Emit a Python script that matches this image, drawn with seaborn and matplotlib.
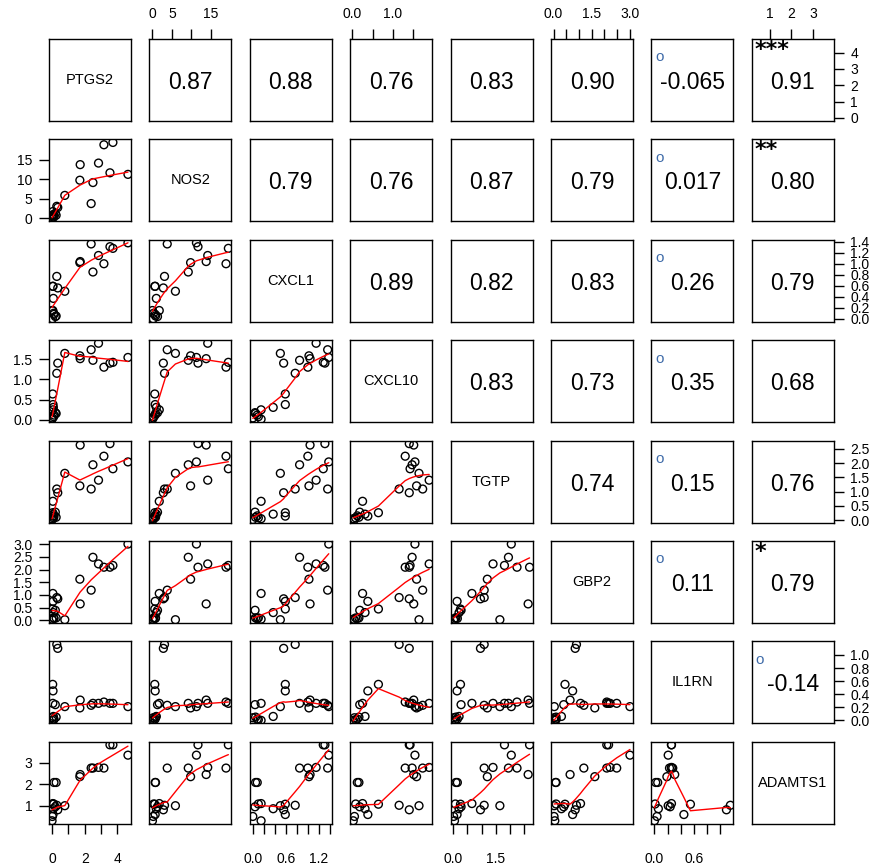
import numpy as np
import pandas as pd
import matplotlib
matplotlib.use("Agg")
import matplotlib.pyplot as plt
import seaborn as sns

# gene expression values (one entry per sample)
PTGS2 = [4.64, 3.72, 3.54, 3.17, 2.84, 2.50, 2.39, 1.72, 1.70, 0.78, 0.29, 0.35,
         0.04, 0.06, 0.08, 0.05, 0.00, 0.12, 0.25, 0.02, 0.10, 0.20]
NOS2 = [11.3, 19.5, 11.7, 18.9, 14.2, 9.2, 3.8, 13.8, 9.8, 5.9, 3.1, 2.8,
        0.6, 0.7, 1.0, 1.75, 0.0, 0.7, 0.8, 0.2, 0.3, 1.3]
CXCL1 = [1.38, 1.28, 1.31, 1.00, 1.15, 0.85, 1.36, 1.04, 1.02, 0.50, 0.77, 0.56,
         0.59, 0.59, 0.37, 0.15, 0.15, 0.08, 0.05, 0.00, 0.10, 0.04]
CXCL10 = [1.54, 1.42, 1.40, 1.30, 1.89, 1.47, 1.73, 1.51, 1.58, 1.64, 1.15, 1.40,
          0.64, 0.38, 0.31, 0.25, 0.02, 0.12, 0.16, 0.05, 0.08, 0.18]
TGTP = [2.04, 1.80, 2.68, 2.24, 1.40, 1.94, 1.09, 2.63, 1.20, 1.64, 1.09, 0.96,
        0.26, 0.14, 0.21, 0.66, 0.05, 0.15, 0.10, 0.02, 0.08, 0.28]
GBP2 = [3.00, 2.16, 2.09, 2.09, 2.22, 2.48, 1.19, 0.65, 1.62, 0.03, 0.90, 0.85,
        0.45, 0.75, 0.31, 1.06, 0.05, 0.08, 0.10, 0.02, 0.10, 0.40]
IL1RN = [0.21, 0.26, 0.26, 0.28, 0.26, 0.26, 0.23, 0.31, 0.19, 0.21, 1.16, 1.10,
         0.55, 0.45, 0.06, 0.26, 0.00, 0.02, 0.05, 0.04, 0.01, 0.24]
ADAMTS1 = [3.35, 3.83, 3.83, 2.75, 2.78, 2.75, 2.75, 2.45, 2.35, 1.00, 1.02, 0.81,
           1.07, 0.59, 0.86, 1.10, 0.30, 2.08, 2.08, 0.50, 1.08, 0.95]

genes = ["PTGS2", "NOS2", "CXCL1", "CXCL10", "TGTP", "GBP2", "IL1RN", "ADAMTS1"]

# correlation labels of the upper panels, row by row
corr_text = [
    ["0.87", "0.88", "0.76", "0.83", "0.90", "-0.065", "0.91"],
    ["0.79", "0.76", "0.87", "0.79", "0.017", "0.80"],
    ["0.89", "0.82", "0.83", "0.26", "0.79"],
    ["0.83", "0.73", "0.35", "0.68"],
    ["0.74", "0.15", "0.76"],
    ["0.11", "0.79"],
    ["-0.14"],
]
# significance marks shown in the same panels
signif = [
    ["", "", "", "", "", "o", "***"],
    ["", "", "", "", "o", "**"],
    ["", "", "", "o", ""],
    ["", "", "o", ""],
    ["", "o", ""],
    ["o", "*"],
    ["o"],
]

# axis ticks and the labels R kept (x axes)
xticks = {
    "PTGS2": ([0, 1, 2, 3, 4], ["0", "", "2", "", "4"]),
    "NOS2": ([0, 5, 10, 15], ["0", "5", "", "15"]),
    "CXCL1": ([0, .2, .4, .6, .8, 1.0, 1.2, 1.4], ["0.0", "", "", "0.6", "", "", "1.2", ""]),
    "CXCL10": ([0, .5, 1.0, 1.5], ["0.0", "", "1.0", ""]),
    "TGTP": ([0, .5, 1.0, 1.5, 2.0, 2.5], ["0.0", "", "", "1.5", "", ""]),
    "GBP2": ([0, .5, 1.0, 1.5, 2.0, 2.5, 3.0], ["0.0", "", "", "1.5", "", "", "3.0"]),
    "IL1RN": ([0, .2, .4, .6, .8, 1.0], ["0.0", "", "", "0.6", "", ""]),
    "ADAMTS1": ([1, 2, 3], ["1", "2", "3"]),
}
# y axes
yticks = {
    "PTGS2": ([0, 1, 2, 3, 4], ["0", "1", "2", "3", "4"]),
    "NOS2": ([0, 5, 10, 15], ["0", "5", "10", "15"]),
    "CXCL1": ([0, .2, .4, .6, .8, 1.0, 1.2, 1.4], ["0.0", "0.2", "0.4", "0.6", "0.8", "1.0", "1.2", "1.4"]),
    "CXCL10": ([0, .5, 1.0, 1.5], ["0.0", "0.5", "1.0", "1.5"]),
    "TGTP": ([0, .5, 1.0, 1.5, 2.0, 2.5], ["0.0", "0.5", "1.0", "1.5", "2.0", "2.5"]),
    "GBP2": ([0, .5, 1.0, 1.5, 2.0, 2.5, 3.0], ["0.0", "0.5", "1.0", "1.5", "2.0", "2.5", "3.0"]),
    "IL1RN": ([0, .2, .4, .6, .8, 1.0], ["0.0", "0.2", "0.4", "0.6", "0.8", "1.0"]),
    "ADAMTS1": ([1, 2, 3], ["1", "2", "3"]),
}

df = pd.DataFrame({"PTGS2": PTGS2, "NOS2": NOS2, "CXCL1": CXCL1, "CXCL10": CXCL10,
                   "TGTP": TGTP, "GBP2": GBP2, "IL1RN": IL1RN, "ADAMTS1": ADAMTS1})


def lowess(x, y, f=2 / 3, it=3):
    # same idea as R's lowess()
    o = np.argsort(x, kind="mergesort")
    x = np.asarray(x, float)[o]
    y = np.asarray(y, float)[o]
    n = len(x)
    r = max(min(int(round(f * n)), n), 2)
    fit = np.zeros(n)
    rob = np.ones(n)
    for _ in range(it + 1):
        for i in range(n):
            d = np.abs(x - x[i])
            h = np.sort(d)[r - 1]
            if h <= 0:
                w = (d == 0).astype(float)
            else:
                u = np.clip(d / h, 0, 1)
                w = (1 - u ** 3) ** 3
            w = w * rob
            sw = w.sum()
            if sw <= 0:
                fit[i] = y[i]
                continue
            mx = (w * x).sum() / sw
            my = (w * y).sum() / sw
            sxx = (w * (x - mx) ** 2).sum()
            if sxx > 1e-10:
                b = (w * (x - mx) * (y - my)).sum() / sxx
                fit[i] = my + b * (x[i] - mx)
            else:
                fit[i] = my
        res = y - fit
        s = np.median(np.abs(res))
        if s == 0:
            break
        u = np.clip(res / (6 * s), -1, 1)
        rob = (1 - u ** 2) ** 2
    return x, fit


sns.set_style("white")
plt.rcParams["font.family"] = ["Liberation Sans", "DejaVu Sans"]
plt.rcParams["text.color"] = "black"
plt.rcParams["xtick.color"] = "black"
plt.rcParams["ytick.color"] = "black"

W, H = 877, 865
fig = plt.figure(figsize=(W / 100, H / 100), dpi=100)

limits = {}
for g in genes:
    lo, hi = df[g].min(), df[g].max()
    r = hi - lo
    limits[g] = (lo - 0.04 * r, hi + 0.04 * r)

size = 82
step = 100.4
for i, gy in enumerate(genes):
    for j, gx in enumerate(genes):
        left = 49 + j * step
        top = 39 + i * step
        ax = fig.add_axes([left / W, 1 - (top + size) / H, size / W, size / H])
        ax.set_xlim(limits[gx])
        ax.set_ylim(limits[gy])

        if i > j:
            sns.scatterplot(x=df[gx], y=df[gy], ax=ax, marker="o", s=32,
                            facecolors="none", edgecolor="black", linewidth=1.0)
            sx, sy = lowess(df[gx].values, df[gy].values)
            sns.lineplot(x=sx, y=sy, ax=ax, color="red", lw=1.0,
                         estimator=None, sort=False)
        elif i == j:
            ax.text(0.5, 0.5, gx, transform=ax.transAxes, ha="center", va="center",
                    fontsize=10.5, color="black")
        else:
            k = j - i - 1
            ax.text(0.5, 0.47, corr_text[i][k], transform=ax.transAxes,
                    ha="center", va="center", fontsize=16.5, color="black")
            sym = signif[i][k]
            if sym == "o":
                ax.text(0.095, 0.775, "o", transform=ax.transAxes, ha="center",
                        va="center", fontsize=11, color="#3e6aa8")
            elif sym:
                ax.text(0.03, 0.99, sym, transform=ax.transAxes, ha="left",
                        va="top", fontsize=16, fontweight="bold",
                        family="DejaVu Sans", color="black")

        ax.set_xlabel("")
        ax.set_ylabel("")
        for sp in ax.spines.values():
            sp.set_visible(True)
            sp.set_color("black")
            sp.set_linewidth(1.0)

        show_top = (i == 0 and j % 2 == 1)
        show_bottom = (i == 7 and j % 2 == 0)
        show_left = (j == 0 and i % 2 == 1)
        show_right = (j == 7 and i % 2 == 0)

        if show_top or show_bottom:
            tv, tl = xticks[gx]
            ax.set_xticks(tv)
            ax.set_xticklabels(tl)
        else:
            ax.set_xticks([])
        if show_left or show_right:
            tv, tl = yticks[gy]
            ax.set_yticks(tv)
            ax.set_yticklabels(tl)
        else:
            ax.set_yticks([])

        ax.tick_params(axis="x", which="both", direction="out", length=7, width=1,
                       colors="black", labelsize=10,
                       top=show_top, labeltop=show_top,
                       bottom=show_bottom, labelbottom=show_bottom,
                       pad=13 if show_bottom else 6)
        ax.tick_params(axis="y", which="both", direction="out", length=7, width=1,
                       colors="black", labelsize=10,
                       left=show_left, labelleft=show_left,
                       right=show_right, labelright=show_right, pad=5)

fig.savefig("out.png", dpi=100)
